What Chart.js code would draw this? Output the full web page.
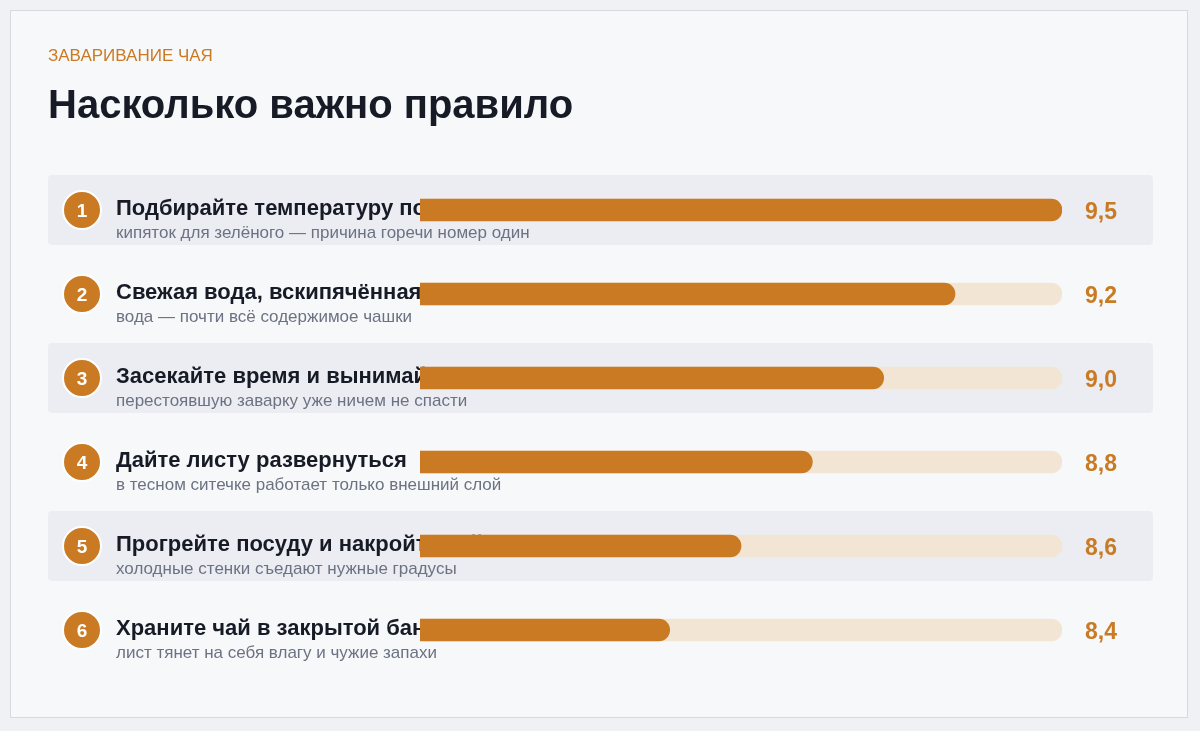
<!DOCTYPE html>
<html><head><meta charset="utf-8">
<script src="https://cdn.jsdelivr.net/npm/chart.js@4/dist/chart.umd.min.js"></script>
<style>
html,body{margin:0;padding:0;background:#f0f1f4;}
#wrap{position:absolute;left:0;top:0;width:1200px;height:731px;}
#card{position:absolute;left:10px;top:10px;width:1176px;height:706px;background:#f7f8fa;border:1px solid #d5d9e0;}
canvas{position:absolute;left:0;top:0;}
</style></head><body>
<div id="wrap"><div id="card"></div><canvas id="c" width="1200" height="731"></canvas></div>
<script>
const ranks = ["1", "2", "3", "4", "5", "6"];
const titles = [
  "Подбирайте температуру под тип чая",
  "Свежая вода, вскипячённая один раз",
  "Засекайте время и вынимайте лист",
  "Дайте листу развернуться",
  "Прогрейте посуду и накройте чайник",
  "Храните чай в закрытой банке"
];
const notes = [
  "кипяток для зелёного — причина горечи номер один",
  "вода — почти всё содержимое чашки",
  "перестоявшую заварку уже ничем не спасти",
  "в тесном ситечке работает только внешний слой",
  "холодные стенки съедают нужные градусы",
  "лист тянет на себя влагу и чужие запахи"
];
const scores = [9.5, 9.2, 9.0, 8.8, 8.6, 8.4];
const axisMin = 7.7, axisMax = 9.5;

const ORANGE = "#c97a22";
const TRACK = "#f2e5d4";

const decor = {
  id: "decor",
  beforeDatasetsDraw(chart) {
    const ctx = chart.ctx, y = chart.scales.y;
    ctx.save();
    ctx.fillStyle = "#c97a22";
    ctx.font = "17px 'Liberation Sans', sans-serif";
    ctx.textBaseline = "alphabetic";
    ctx.fillText("ЗАВАРИВАНИЕ ЧАЯ", 48, 61);
    ctx.fillStyle = "#161b26";
    ctx.font = "bold 40px 'Liberation Sans Narrow', sans-serif";
    ctx.fillText("Насколько важно правило", 48, 118);
    titles.forEach((t, i) => {
      const cy = y.getPixelForValue(i);
      if (i % 2 === 0) {
        ctx.fillStyle = "#ebedf2";
        ctx.beginPath();
        ctx.roundRect(48, cy - 35, 1105, 70, 4);
        ctx.fill();
      }
      ctx.fillStyle = ORANGE;
      ctx.beginPath();
      ctx.arc(82, cy, 19, 0, Math.PI * 2);
      ctx.fill();
      ctx.strokeStyle = "#ffffff"; ctx.lineWidth = 2; ctx.stroke();
      ctx.fillStyle = "#fff";
      ctx.textAlign = "center";
      ctx.font = "bold 19px 'Liberation Sans Narrow', sans-serif";
      ctx.fillText(ranks[i], 82, cy + 7);
      ctx.textAlign = "left";
      ctx.fillStyle = "#161b26";
      ctx.font = "bold 22px 'Liberation Sans Narrow', sans-serif";
      ctx.fillText(t, 116, cy + 5);
      ctx.fillStyle = "#6b7282";
      ctx.font = "17px 'Liberation Sans', sans-serif";
      ctx.fillText(notes[i], 116, cy + 28);
    });
    ctx.restore();
  },
  afterDatasetsDraw(chart) {
    const ctx = chart.ctx, y = chart.scales.y;
    ctx.save();
    ctx.fillStyle = ORANGE;
    ctx.textAlign = "center";
    ctx.font = "bold 23px 'Liberation Sans Narrow', sans-serif";
    scores.forEach((s, i) => {
      ctx.fillText(s.toFixed(1).replace(".", ","), 1101, y.getPixelForValue(i) + 9);
    });
    ctx.restore();
  }
};

new Chart(document.getElementById("c"), {
  type: "bar",
  data: {
    labels: titles,
    datasets: [
      { data: scores, backgroundColor: ORANGE, grouped: false, barThickness: 22, borderRadius: 11, borderSkipped: false },
      { data: scores.map(() => axisMax), backgroundColor: TRACK, grouped: false, barThickness: 22, borderRadius: 11, borderSkipped: false }
    ]
  },
  options: {
    indexAxis: "y",
    responsive: false,
    animation: false,
    layout: { padding: { left: 420, right: 138, top: 168, bottom: 59 } },
    plugins: { legend: { display: false }, tooltip: { enabled: false } },
    scales: {
      x: { display: false, min: axisMin, max: axisMax },
      y: { display: false }
    }
  },
  plugins: [decor]
});
</script></body></html>
